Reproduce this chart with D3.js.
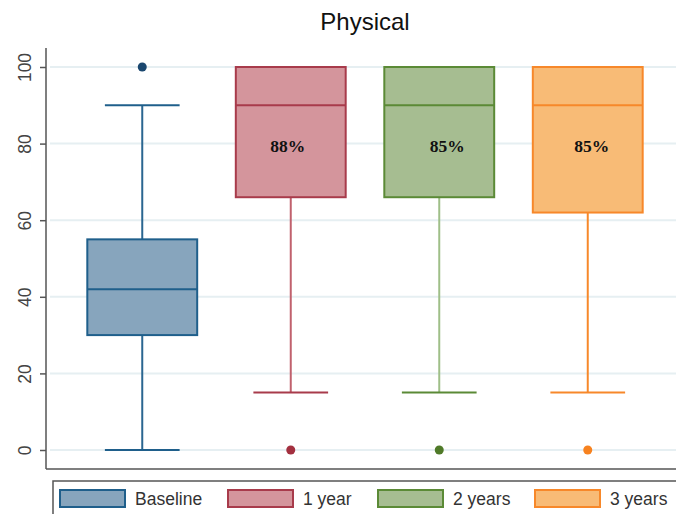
<!DOCTYPE html>
<html>
<head>
<meta charset="utf-8">
<script src="https://cdn.jsdelivr.net/npm/d3@7"></script>
<style>
  body { margin: 0; background: #fff; }
  svg { display: block; font-family: Arial, "Liberation Sans", sans-serif; }
</style>
</head>
<body>
<div id="chart"></div>
<script>
// categories and box statistics
var groups   = ["Baseline", "1 year", "2 years", "3 years"];
var whiskLo  = [0, 15, 15, 15];
var q1       = [30, 66, 66, 62];
var median   = [42, 90, 90, 90];
var q3       = [55, 100, 100, 100];
var whiskHi  = [90, 100, 100, 100];
var outliers = [[100], [0], [0], [0]];
var labels   = ["", "88%", "85%", "85%"];
var yTicks   = [0, 20, 40, 60, 80, 100];

var strokeCol  = ["#1f5f8b", "#a83b4b", "#5b8a36", "#f7882a"];
var fillCol    = ["#87a5bd", "#d4959c", "#a6bd91", "#f8bb76"];
var whiskCol   = ["#2a6690", "#c0616d", "#9fbf88", "#f7882a"];
var dotCol     = ["#1a476f", "#a3303f", "#4f7a28", "#f7821f"];

var W = 676, H = 514;
var margin = {top: 48, right: 0, bottom: 45, left: 46};

var svg = d3.select("#chart").append("svg")
    .attr("width", W)
    .attr("height", H);

var x = d3.scaleBand()
    .domain(groups)
    .range([68, 662])
    .paddingInner(0.26)
    .paddingOuter(0.13);

var y = d3.scaleLinear()
    .domain([0, 100])
    .range([450, 67]);

// title
svg.append("text")
    .attr("x", 365)
    .attr("y", 30)
    .attr("text-anchor", "middle")
    .style("font-size", "24px")
    .style("fill", "#111")
    .text("Physical");

// gridlines
svg.append("g").selectAll("line")
    .data(yTicks)
    .enter().append("line")
    .attr("x1", margin.left + 4)
    .attr("x2", W)
    .attr("y1", function(d) { return y(d); })
    .attr("y2", function(d) { return y(d); })
    .style("stroke", "#e6eff2")
    .style("stroke-width", 2);

// y axis
var yAxis = svg.append("g")
    .attr("transform", "translate(" + margin.left + ",0)")
    .call(d3.axisLeft(y).tickValues(yTicks).tickSize(6).tickSizeOuter(0));
yAxis.select(".domain").remove();
yAxis.selectAll(".tick line").style("stroke", "#555").style("stroke-width", 1.5);
yAxis.selectAll(".tick text")
    .attr("transform", "rotate(-90)")
    .attr("x", 0)
    .attr("y", -15)
    .attr("dy", 0)
    .style("text-anchor", "middle")
    .style("font-size", "17.5px")
    .style("font-family", "Arial, 'Liberation Sans', sans-serif")
    .style("fill", "#444");

svg.append("line")
    .attr("x1", margin.left).attr("x2", margin.left)
    .attr("y1", margin.top).attr("y2", 469)
    .style("stroke", "#555").style("stroke-width", 1.5);
svg.append("line")
    .attr("x1", margin.left).attr("x2", W)
    .attr("y1", 469).attr("y2", 469)
    .style("stroke", "#555").style("stroke-width", 1.5);

// boxes
var bw = x.bandwidth();
var capW = bw * 0.68;
var labelShift = [0, -3, 8, 4];

var box = svg.append("g").selectAll("g")
    .data(groups)
    .enter().append("g");

box.each(function(g, i) {
  var sel = d3.select(this);
  var cx = x(g) + bw / 2;

  // lower whisker
  if (whiskLo[i] < q1[i]) {
    sel.append("line")
      .attr("x1", cx).attr("x2", cx)
      .attr("y1", y(whiskLo[i])).attr("y2", y(q1[i]))
      .style("stroke", whiskCol[i]).style("stroke-width", 2);
    sel.append("line")
      .attr("x1", cx - capW / 2).attr("x2", cx + capW / 2)
      .attr("y1", y(whiskLo[i])).attr("y2", y(whiskLo[i]))
      .style("stroke", strokeCol[i]).style("stroke-width", 2);
  }
  // upper whisker
  if (whiskHi[i] > q3[i]) {
    sel.append("line")
      .attr("x1", cx).attr("x2", cx)
      .attr("y1", y(whiskHi[i])).attr("y2", y(q3[i]))
      .style("stroke", whiskCol[i]).style("stroke-width", 2);
    sel.append("line")
      .attr("x1", cx - capW / 2).attr("x2", cx + capW / 2)
      .attr("y1", y(whiskHi[i])).attr("y2", y(whiskHi[i]))
      .style("stroke", strokeCol[i]).style("stroke-width", 2);
  }

  sel.append("rect")
    .attr("x", x(g))
    .attr("y", y(q3[i]))
    .attr("width", bw)
    .attr("height", y(q1[i]) - y(q3[i]))
    .style("fill", fillCol[i])
    .style("stroke", strokeCol[i])
    .style("stroke-width", 2);

  sel.append("line")
    .attr("x1", x(g)).attr("x2", x(g) + bw)
    .attr("y1", y(median[i])).attr("y2", y(median[i]))
    .style("stroke", strokeCol[i]).style("stroke-width", 2);

  sel.selectAll("circle")
    .data(outliers[i])
    .enter().append("circle")
    .attr("cx", cx)
    .attr("cy", function(d) { return y(d); })
    .attr("r", 4.5)
    .style("fill", dotCol[i]);

  if (labels[i]) {
    sel.append("text")
      .attr("x", cx + labelShift[i])
      .attr("y", y(80) + 8)
      .attr("text-anchor", "middle")
      .style("font-family", "'Liberation Serif', 'Times New Roman', serif")
      .style("font-weight", "bold")
      .style("font-size", "17.5px")
      .style("fill", "#111")
      .text(labels[i]);
  }
});

// legend
var legend = svg.append("g");
legend.append("rect")
    .attr("x", 53).attr("y", 481)
    .attr("width", 640).attr("height", 50)
    .style("fill", "#fff")
    .style("stroke", "#555")
    .style("stroke-width", 1.5);

var legX = [60, 228, 378, 535];
var item = legend.selectAll(".item")
    .data(groups)
    .enter().append("g")
    .attr("class", "item")
    .attr("transform", function(d, i) { return "translate(" + legX[i] + ",490)"; });

item.append("rect")
    .attr("width", 65).attr("height", 17)
    .style("fill", function(d, i) { return fillCol[i]; })
    .style("stroke", function(d, i) { return strokeCol[i]; })
    .style("stroke-width", 2);

item.append("text")
    .attr("x", 75)
    .attr("y", 15)
    .style("font-size", "17.5px")
    .style("fill", "#333")
    .text(function(d) { return d; });
</script>
</body>
</html>
